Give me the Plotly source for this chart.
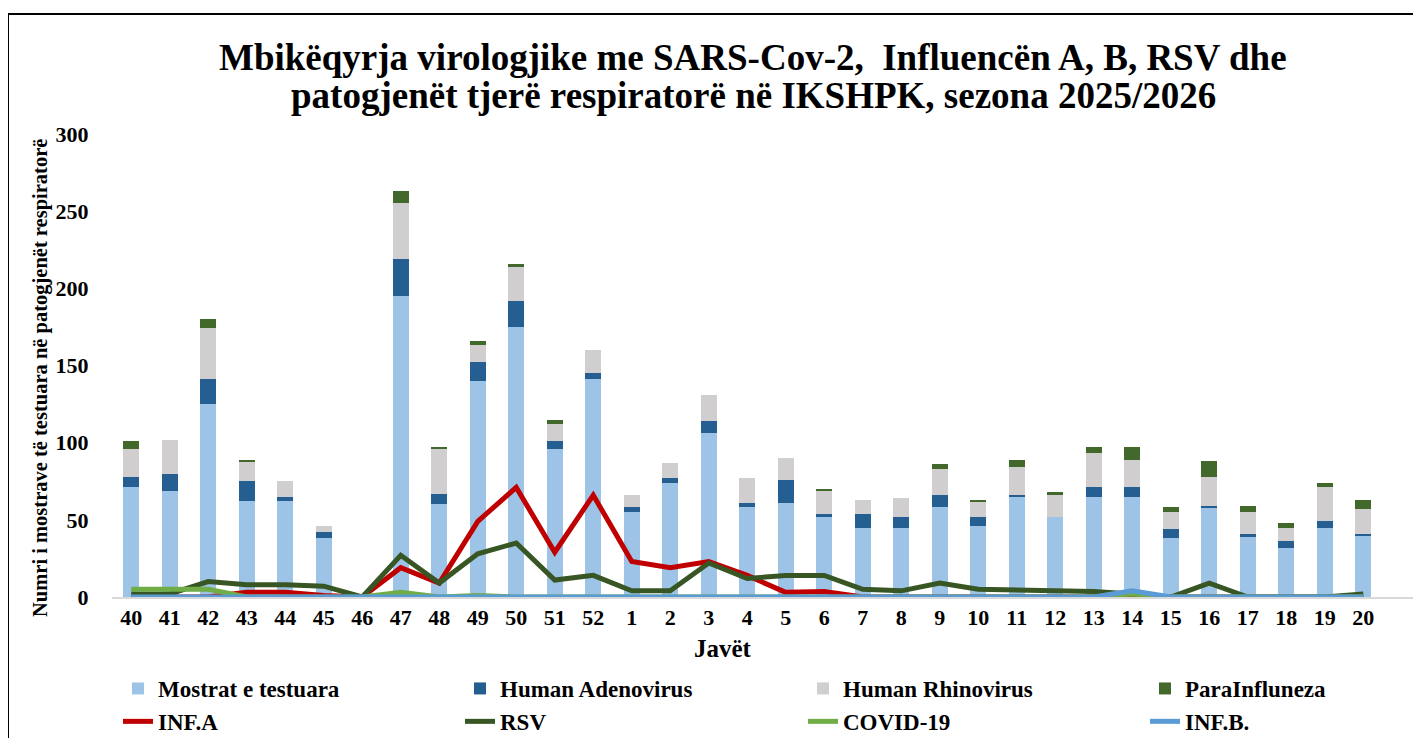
import plotly.graph_objects as go

weeks = ["40", "41", "42", "43", "44", "45", "46", "47", "48", "49", "50", "51", "52",
         "1", "2", "3", "4", "5", "6", "7", "8", "9", "10", "11", "12", "13", "14",
         "15", "16", "17", "18", "19", "20"]

mostrat = [71, 69, 125, 62, 62, 38, 0, 195, 60, 140, 175, 96, 141,
           55, 74, 106, 58, 61, 52, 45, 45, 58, 46, 65, 52, 65, 65,
           38, 58, 39, 32, 45, 40]
adeno = [7, 11, 16, 13, 3, 4, 0, 24, 7, 12, 17, 5, 4,
         3, 3, 8, 3, 15, 2, 9, 7, 8, 6, 1, 0, 6, 6,
         6, 1, 2, 4, 4, 1]
rhino = [18, 22, 33, 13, 10, 4, 0, 36, 29, 11, 22, 11, 15,
         8, 10, 17, 16, 14, 15, 9, 12, 17, 10, 18, 14, 22, 18,
         11, 19, 14, 9, 22, 16]
para = [5, 0, 6, 1, 0, 0, 0, 8, 1, 3, 2, 3, 0,
        0, 0, 0, 0, 0, 1, 0, 0, 3, 1, 5, 2, 4, 8,
        3, 10, 4, 3, 3, 6]

inf_a = [0, 0, 0, 3, 3, 1, 0, 19, 9, 49, 71, 29, 66,
         23, 19, 23, 14, 3, 3.5, 0, 0, 0, 0, 0, 0, 0, 0,
         0, 0, 0, 0, 0, 0]
rsv = [2, 2, 10, 8, 8, 7, 0, 27, 9, 28, 35, 11, 14,
       4, 4, 22, 12, 14, 14, 5, 4, 9, 5, 4.5, 3.5, 3.5, 2,
       0, 9, 0, 0, 0, 2]
covid = [5, 5, 5, 0, 0, 0, 0, 3, 0, 1, 0, 0, 0,
         0, 0, 0, 0, 0, 0, 0, 0, 0, 0, 0, 0, 0, 2,
         0, 0, 0, 0, 0, 0]
inf_b = [0, 0, 0, 0, 0, 0, 0, 0, 0, 0, 0, 0, 0,
         0, 0, 0, 0, 0, 0, 0, 0, 0, 0, 0, 0, 0, 4,
         0, 0, 0, 0, 0, 0]

y_ticks = [0, 50, 100, 150, 200, 250, 300]

title_line1 = "Mbikëqyrja virologjike me SARS-Cov-2,&nbsp; Influencën A, B, RSV dhe"
title_line2 = "patogjenët tjerë respiratorë në IKSHPK, sezona 2025/2026"

FONT = "Liberation Serif"

fig = go.Figure()

bar_specs = [
    ("Mostrat e testuara", mostrat, "#9DC3E6", "legend"),
    ("Human Adenovirus", adeno, "#255E91", "legend2"),
    ("Human Rhinovirus", rhino, "#D0CECE", "legend3"),
    ("ParaInfluneza", para, "#43682B", "legend4"),
]
for name, vals, color, lg in bar_specs:
    fig.add_trace(go.Bar(
        x=weeks, y=vals, name=name, marker_color=color,
        marker_line_width=0, width=0.41, legend=lg,
    ))

line_specs = [
    ("INF.A", inf_a, "#C00000", "legend"),
    ("RSV", rsv, "#375623", "legend2"),
    ("COVID-19", covid, "#70AD47", "legend3"),
    ("INF.B.", inf_b, "#5B9BD5", "legend4"),
]
for name, vals, color, lg in line_specs:
    fig.add_trace(go.Scatter(
        x=weeks, y=vals, name=name, mode="lines",
        line=dict(color=color, width=5), legend=lg,
    ))

# plot area in reference-picture pixels
PX_L, PX_W, PX_B, PX_H = 112, 1309, 597, 463
PAGE_OFF = 8  # default page body margin shifts the figure by 8px

def px_x(p):
    return (p - PX_L) / PX_W

def px_y(p):
    return (PX_B - p) / PX_H

FIG_W, FIG_H = 1421 - PAGE_OFF, 738 - PAGE_OFF
m_l = PX_L - PAGE_OFF
m_t = (PX_B - PX_H) - PAGE_OFF
m_r = FIG_W - m_l - PX_W
m_b = FIG_H - m_t - PX_H

legend_font = dict(family=FONT, size=23, color="black", weight="bold")
leg_common = dict(orientation="v", yanchor="top", y=px_y(667), xanchor="left",
                  font=legend_font, traceorder="normal",
                  bgcolor="rgba(0,0,0,0)", itemwidth=30)

fig.update_layout(
    width=FIG_W, height=FIG_H,
    margin=dict(l=m_l, r=max(m_r, 0), t=m_t, b=m_b, autoexpand=False),
    paper_bgcolor="white", plot_bgcolor="white",
    barmode="stack",
    xaxis=dict(
        type="category", categoryorder="array", categoryarray=weeks,
        range=[-0.5, 33.5],
        showline=True, linecolor="#D9D9D9", linewidth=2,
        showgrid=False, zeroline=False,
        ticks="",
        tickfont=dict(family=FONT, size=22, color="black", weight="bold"),
    ),
    yaxis=dict(
        range=[0, 300], tickvals=y_ticks,
        showline=False, showgrid=False, zeroline=False,
        ticks="outside", ticklen=18, tickcolor="rgba(0,0,0,0)",
        tickfont=dict(family=FONT, size=22, color="black", weight="bold"),
    ),
    legend=dict(x=px_x(118), **leg_common),
    legend2=dict(x=px_x(460), **leg_common),
    legend3=dict(x=px_x(803), **leg_common),
    legend4=dict(x=px_x(1145), **leg_common),
    showlegend=True,
)

title_font = dict(family=FONT, size=37, color="black", weight="bold")
fig.add_annotation(
    text=title_line1, xref="paper", yref="paper",
    x=px_x(753), y=px_y(57), showarrow=False,
    xanchor="center", yanchor="middle", font=title_font,
)
fig.add_annotation(
    text=title_line2, xref="paper", yref="paper",
    x=px_x(753), y=px_y(96), showarrow=False,
    xanchor="center", yanchor="middle", font=title_font,
)

fig.add_annotation(
    text="Numri i mostrave të testuara në patogjenët respiratorë",
    xref="paper", yref="paper", x=px_x(40), y=px_y(378),
    textangle=-90, showarrow=False, xanchor="center", yanchor="middle",
    font=dict(family=FONT, size=20.5, color="black", weight="bold"),
)
fig.add_annotation(
    text="Javët",
    xref="paper", yref="paper", x=px_x(723), y=px_y(648),
    showarrow=False, xanchor="center", yanchor="middle",
    font=dict(family=FONT, size=25, color="black", weight="bold"),
)

# chart-area border (left and top edges)
fig.add_shape(type="line", xref="paper", yref="paper",
              x0=px_x(8), y0=px_y(14), x1=px_x(1425), y1=px_y(14),
              line=dict(color="black", width=2))
fig.add_shape(type="line", xref="paper", yref="paper",
              x0=px_x(8), y0=px_y(14), x1=px_x(8), y1=px_y(745),
              line=dict(color="black", width=2))

fig.write_html("out.html")
